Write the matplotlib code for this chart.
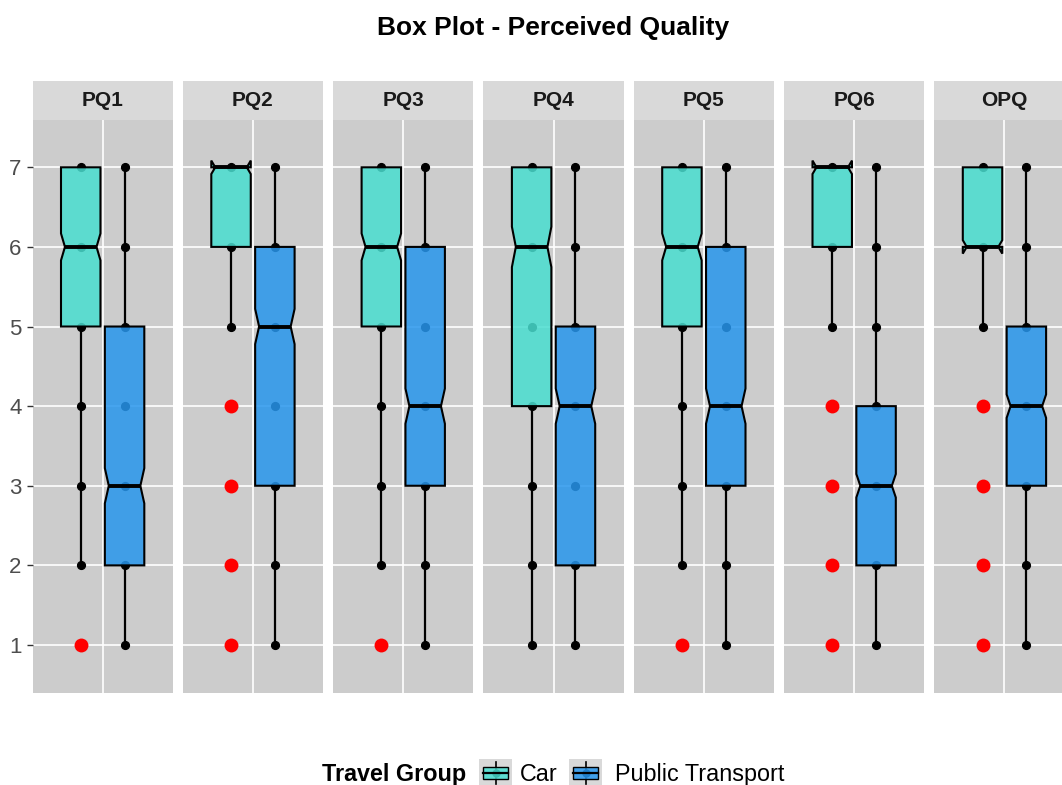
import matplotlib.pyplot as plt
from matplotlib.colors import to_rgb
from matplotlib.patches import Polygon, Rectangle

plt.rcParams['font.family'] = ['Liberation Sans', 'DejaVu Sans']

items = ['PQ1', 'PQ2', 'PQ3', 'PQ4', 'PQ5', 'PQ6', 'OPQ']
groups = ['Car', 'Public Transport']
scale_levels = [1, 2, 3, 4, 5, 6, 7]

# box statistics per item (Car)
car_q1 = [5, 6, 5, 4, 5, 6, 6]
car_med = [6, 7, 6, 6, 6, 7, 6]
car_q3 = [7, 7, 7, 7, 7, 7, 7]
car_lo = [2, 5, 2, 1, 2, 5, 5]
car_hi = [7, 7, 7, 7, 7, 7, 7]
car_out = [[1], [1, 2, 3, 4], [1], [], [1], [1, 2, 3, 4], [1, 2, 3, 4]]

# box statistics per item (Public Transport)
pt_q1 = [2, 3, 3, 2, 3, 2, 3]
pt_med = [3, 5, 4, 4, 4, 3, 4]
pt_q3 = [5, 6, 6, 5, 6, 4, 5]
pt_lo = [1, 1, 1, 1, 1, 1, 1]
pt_hi = [7, 7, 7, 7, 7, 7, 7]
pt_out = [[], [], [], [], [], [], []]

# respondents per group (sets notch size)
n_car, n_pt = 350, 460

fills = ['#49DED0', '#2796ED']
fill_alpha = 0.85
notch_ratio = 0.8
dodge = 0.1875
box_w = 0.3375

W, H = 1062, 785
fig = plt.figure(figsize=(W / 100, H / 100), dpi=100)


def fx(px):
    return px / W


def fy(py):
    return 1 - py / H


def draw_box(ax, x, q1, med, q3, lo, hi, outl, n, color):
    half = 1.58 * (q3 - q1) / n ** 0.5
    nlo, nhi = med - half, med + half
    xl, xr = x - box_w / 2, x + box_w / 2
    ind = box_w * (1 - notch_ratio) / 2
    # raw responses sit under the box
    ax.plot([x] * len(scale_levels), scale_levels, 'o', color='black',
            ms=5.6, zorder=2)
    ax.plot([x, x], [q3, hi], color='black', lw=1.6, zorder=2)
    ax.plot([x, x], [lo, q1], color='black', lw=1.6, zorder=2)
    verts = [(xl, q3), (xl, nhi), (xl + ind, med), (xl, nlo), (xl, q1),
             (xr, q1), (xr, nlo), (xr - ind, med), (xr, nhi), (xr, q3)]
    ax.add_patch(Polygon(verts, closed=True,
                         facecolor=(*to_rgb(color), fill_alpha),
                         edgecolor='black', lw=1.5, zorder=3))
    ax.plot([xl + ind, xr - ind], [med, med], color='black', lw=2.8,
            zorder=4, solid_capstyle='butt')
    if outl:
        ax.plot([x] * len(outl), outl, 'o', color='#FF0000', ms=10,
                mec='none', zorder=5)


panel_top, panel_bot = 120, 693
strip_top = 81
for i, item in enumerate(items):
    left = 32.5 + i * 150.3
    ax = fig.add_axes([fx(left), fy(panel_bot), 140.3 / W,
                       (panel_bot - panel_top) / H])
    ax.set_facecolor('#CCCCCC')
    ax.set_xlim(-0.6, 0.6)
    ax.set_ylim(0.397, 7.594)
    ax.set_xticks([0])
    ax.set_yticks(scale_levels)
    ax.grid(color='white', lw=1.2)
    ax.set_axisbelow(True)
    for s in ax.spines.values():
        s.set_visible(False)
    ax.tick_params(axis='x', length=0, labelbottom=False)
    if i == 0:
        ax.tick_params(axis='y', length=4, width=1, color='#333333',
                       labelsize=16, labelcolor='#4D4D4D', pad=4)
    else:
        ax.tick_params(axis='y', length=0, labelleft=False)

    draw_box(ax, -dodge, car_q1[i], car_med[i], car_q3[i], car_lo[i],
             car_hi[i], car_out[i], n_car, fills[0])
    draw_box(ax, dodge, pt_q1[i], pt_med[i], pt_q3[i], pt_lo[i],
             pt_hi[i], pt_out[i], n_pt, fills[1])

    sh = (panel_top - strip_top) / (panel_bot - panel_top)
    ax.add_patch(Rectangle((0, 1), 1, sh, transform=ax.transAxes,
                           facecolor='#D9D9D9', edgecolor='none',
                           clip_on=False))
    ax.text(0.5, 1 + sh / 2, item, transform=ax.transAxes, ha='center',
            va='center', fontsize=15, fontweight='bold', color='#1A1A1A')

fig.text(fx(553.5), fy(28), 'Box Plot - Perceived Quality', ha='center',
         va='center', fontsize=19, fontweight='bold', color='black')

# legend
base_y = 781
fig.text(fx(322), fy(base_y), 'Travel Group', ha='left', va='baseline',
         fontsize=16.8, fontweight='bold', color='black')
key_x = [479, 569]
label_x = [520, 615]
for k in range(2):
    kax = fig.add_axes([fx(key_x[k]), fy(787), 33 / W, 28 / H])
    kax.set_xlim(0, 1)
    kax.set_ylim(0, 1)
    kax.set_facecolor('#D9D9D9')
    kax.set_xticks([])
    kax.set_yticks([])
    for s in kax.spines.values():
        s.set_visible(False)
    kax.plot([0.5, 0.5], [0.1, 0.9], color='black', lw=1.2, zorder=1)
    kax.plot([0.5], [0.5], 'o', color='black', ms=5, zorder=2)
    kax.add_patch(Rectangle((0.12, 0.28), 0.76, 0.44,
                            facecolor=(*to_rgb(fills[k]), fill_alpha),
                            edgecolor='black', lw=1.0, zorder=3))
    kax.plot([0.12, 0.88], [0.5, 0.5], color='black', lw=1.6, zorder=4)
    fig.text(fx(label_x[k]), fy(base_y), groups[k], ha='left',
             va='baseline', fontsize=16.8, color='black')

fig.savefig('out.png', dpi=100, facecolor='white')
